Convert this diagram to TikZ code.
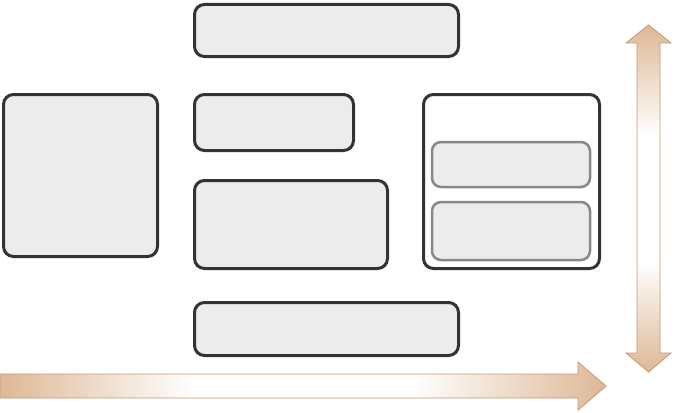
\documentclass[tikz,border=0pt]{standalone}
\definecolor{tanc}{RGB}{222,184,150}
\definecolor{tanline}{RGB}{196,154,116}
\definecolor{boxfill}{RGB}{236,236,236}
\definecolor{boxline}{RGB}{51,51,51}
\definecolor{innerline}{RGB}{136,136,136}
\pgfdeclarehorizontalshading{tanfade}{100bp}{color(0bp)=(tanc); color(25bp)=(tanc); color(41bp)=(white); color(59bp)=(white); color(75bp)=(tanc); color(100bp)=(tanc)}
\tikzset{
  box/.style={draw=boxline, fill=boxfill, line width=3pt, rounded corners=10pt, inner sep=0pt, outer sep=0pt},
  outerbox/.style={draw=boxline, fill=white, line width=3pt, rounded corners=10pt, inner sep=0pt, outer sep=0pt},
  innerbox/.style={draw=innerline, fill=boxfill, line width=2.5pt, rounded corners=9pt, inner sep=0pt, outer sep=0pt},
  bigarrow/.style={draw=tanline, line width=0.8pt, shading=tanfade}
}
\begin{document}
\begin{tikzpicture}[x=1pt,y=-1pt]
\useasboundingbox (0,0) rectangle (676,412);
\node[box, minimum width=264pt, minimum height=52pt] (top) at (326.5,30.5) {};
\node[box, minimum width=154pt, minimum height=162pt] (left) at (80.5,175.5) {};
\node[box, minimum width=159pt, minimum height=56pt] (mid1) at (274,122.5) {};
\node[box, minimum width=193pt, minimum height=88pt] (mid2) at (291,224.5) {};
\node[outerbox, minimum width=176pt, minimum height=174pt] (cont) at (511.5,181.5) {};
\node[innerbox, minimum width=158pt, minimum height=45pt] (in1) at (511,164.5) {};
\node[innerbox, minimum width=158pt, minimum height=58pt] (in2) at (511,231) {};
\node[box, minimum width=264pt, minimum height=53pt] (bot) at (326.5,329) {};
% horizontal arrow
\path[bigarrow] (0,374) -- (578,374) -- (578,362) -- (606,386) -- (578,410) -- (578,398) -- (0,398) -- cycle;
% vertical double arrow
\path[bigarrow, shading angle=90] (637,43) -- (626,43) -- (648.5,25) -- (671,43) -- (660,43) -- (660,353) -- (671,353) -- (648.5,372) -- (626,353) -- (637,353) -- cycle;
\end{tikzpicture}
\end{document}
